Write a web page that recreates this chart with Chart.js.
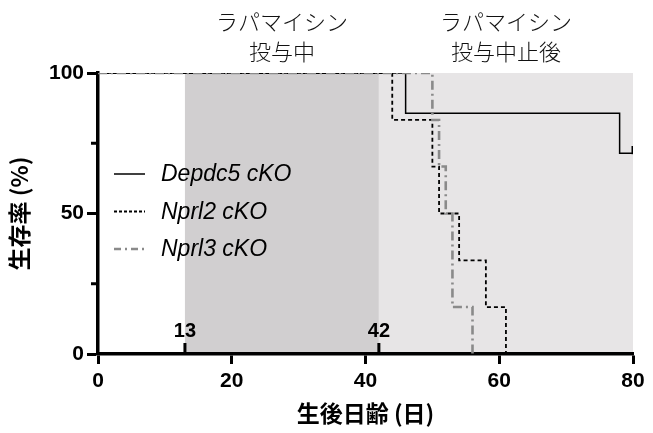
<!DOCTYPE html>
<html><head><meta charset="utf-8">
<script src="https://cdn.jsdelivr.net/npm/chart.js@4"></script>
<style>html,body{margin:0;padding:0;background:#fff}#wrap{width:653px;height:433px}</style>
</head><body><div id="wrap"><canvas id="c" width="653" height="433"></canvas></div>
<script>
// ---- data ----
const seriesNames = ['Depdc5 cKO', 'Nprl2 cKO', 'Nprl3 cKO'];
const depdc5Days = [0, 46, 78, 80];
const depdc5Surv = [100, 85.7, 71.4, 71.4];
const nprl2Days = [0, 44, 50, 51, 54, 58, 61];
const nprl2Surv = [100, 83.3, 66.7, 50, 33.3, 16.7, 0];
const nprl3Days = [0, 50, 51, 52, 53, 56];
const nprl3Surv = [100, 83.3, 66.7, 50, 16.7, 0];
const xTicks = [0, 20, 40, 60, 80];
const yTicks = [0, 50, 100];
const yMinorTicks = [25, 75];
const treatStart = 13, treatEnd = 42, xMax = 80;
const periodLabels = [['ラパマイシン', '投与中'], ['ラパマイシン', '投与中止後']];
const xTitle = '生後日齢 (日)';
const yTitle = '生存率 (%)';

const pts = (xs, ys) => xs.map((x, i) => ({x, y: ys[i]}));

// censor mark: short vertical stroke upward from the point
const censor = document.createElement('canvas');
censor.width = 4; censor.height = 14;
(function(){const g = censor.getContext('2d'); g.fillStyle = '#000'; g.fillRect(0.5, 0, 3, 7.5);})();

const COLORS = ['#000000', '#000000', '#8a8a8a'];
const DASHES = [[], [4, 3], [9, 4, 2, 4]];
const WIDTHS = [1.5, 1.8, 2.6];

const bgPlugin = {
  id: 'bg',
  beforeDraw(chart) {
    const {ctx, scales: {x, y}} = chart;
    ctx.save();
    const top = y.getPixelForValue(100), bot = y.getPixelForValue(0);
    ctx.fillStyle = '#d1cfd0';
    ctx.fillRect(x.getPixelForValue(treatStart), top, x.getPixelForValue(treatEnd) - x.getPixelForValue(treatStart), bot - top);
    ctx.fillStyle = '#e7e5e6';
    ctx.fillRect(x.getPixelForValue(treatEnd), top, x.getPixelForValue(xMax) - x.getPixelForValue(treatEnd), bot - top);
    ctx.restore();
  },
  afterDraw(chart) {
    const {ctx, scales: {x, y}} = chart;
    ctx.save();
    // minor y ticks
    ctx.strokeStyle = '#000'; ctx.lineWidth = 3;
    yMinorTicks.forEach(v => {
      const py = y.getPixelForValue(v);
      ctx.beginPath(); ctx.moveTo(x.left - 7, py); ctx.lineTo(x.left, py); ctx.stroke();
    });
    // treatment markers 13 / 42
    const axisY = y.getPixelForValue(0);
    [treatStart, treatEnd].forEach(v => {
      const px = x.getPixelForValue(v);
      ctx.beginPath(); ctx.moveTo(px, axisY); ctx.lineTo(px, axisY - 11); ctx.stroke();
      ctx.fillStyle = '#000';
      ctx.font = 'bold 20px "Liberation Sans Narrow", "Liberation Sans", Arial, sans-serif';
      ctx.textAlign = 'center'; ctx.textBaseline = 'alphabetic';
      ctx.fillText(String(v), px, axisY - 17);
    });
    // period labels
    ctx.font = '300 22px "Noto Sans CJK JP", sans-serif';
    ctx.fillStyle = '#111';
    ctx.textAlign = 'center'; ctx.textBaseline = 'middle';
    const centers = [(treatStart + treatEnd) / 2, (treatEnd + xMax) / 2];
    periodLabels.forEach((lines, i) => {
      const cx = x.getPixelForValue(centers[i]);
      lines.forEach((t, j) => ctx.fillText(t, cx, 22 + j * 30));
    });
    // legend
    ctx.font = 'italic 23px "Liberation Sans", Arial, sans-serif';
    ctx.textAlign = 'left'; ctx.textBaseline = 'middle';
    seriesNames.forEach((name, i) => {
      const ly = 174 + i * 37.5;
      ctx.strokeStyle = COLORS[i]; ctx.lineWidth = WIDTHS[i];
      ctx.setLineDash(i === 1 ? [3, 2] : (i === 2 ? [7, 4, 2, 4] : []));
      ctx.beginPath(); ctx.moveTo(114, ly); ctx.lineTo(145, ly); ctx.stroke();
      ctx.setLineDash([]);
      ctx.fillStyle = '#000';
      ctx.fillText(name, 161, ly + 1);
    });
    ctx.restore();
  }
};

const tickFont = {family: '"Liberation Sans Narrow", "Liberation Sans", Arial, sans-serif', size: 21, weight: 'bold'};
const titleFont = {family: '"Noto Sans CJK JP", sans-serif', size: 23, weight: 'bold'};

new Chart(document.getElementById('c'), {
  type: 'line',
  data: {
    datasets: [
      {label: seriesNames[0], data: pts(depdc5Days, depdc5Surv), stepped: 'before', borderColor: COLORS[0], borderWidth: WIDTHS[0], borderDash: DASHES[0], fill: false,
       pointRadius: ctx => ctx.dataIndex === depdc5Days.length - 1 ? 7 : 0, pointStyle: censor, order: 2},
      {label: seriesNames[1], data: pts(nprl2Days, nprl2Surv), stepped: 'before', borderColor: COLORS[1], borderWidth: WIDTHS[1], borderDash: DASHES[1], fill: false, pointRadius: 0, order: 1},
      {label: seriesNames[2], data: pts(nprl3Days, nprl3Surv), stepped: 'before', borderColor: COLORS[2], borderWidth: WIDTHS[2], borderDash: DASHES[2], fill: false, pointRadius: 0, order: 0}
    ]
  },
  options: {
    responsive: false, animation: false, devicePixelRatio: 1,
    layout: {padding: {left: 5, right: 20, top: 73, bottom: 0}},
    plugins: {legend: {display: false}, tooltip: {enabled: false}},
    scales: {
      x: {
        type: 'linear', min: 0, max: xMax,
        afterBuildTicks: s => { s.ticks = xTicks.map(v => ({value: v})); },
        afterFit: s => { s.height = 79; },
        border: {display: true, color: '#000', width: 3.5},
        grid: {drawOnChartArea: false, drawTicks: true, tickLength: 10, tickColor: '#000', tickWidth: 3},
        ticks: {color: '#000', font: tickFont, padding: 5, maxRotation: 0},
        title: {display: true, text: xTitle, color: '#000', font: titleFont, padding: {top: 4, bottom: 6}}
      },
      y: {
        type: 'linear', min: 0, max: 100,
        afterBuildTicks: s => { s.ticks = yTicks.map(v => ({value: v})); },
        afterFit: s => { s.width = 93; },
        border: {display: true, color: '#000', width: 3.5},
        grid: {drawOnChartArea: false, drawTicks: true, tickLength: 11, tickColor: '#000', tickWidth: 3},
        ticks: {color: '#000', font: tickFont, padding: 3},
        title: {display: true, text: yTitle, color: '#000', font: titleFont, padding: {top: 0, bottom: 0}}
      }
    }
  },
  plugins: [bgPlugin]
});
</script></body></html>
